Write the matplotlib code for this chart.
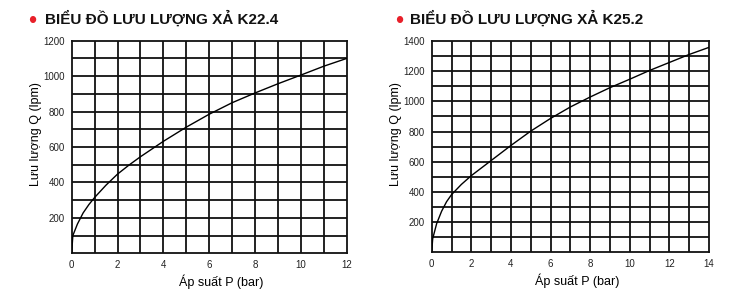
import numpy as np
import matplotlib
matplotlib.use('Agg')
import matplotlib.pyplot as plt

plt.rcParams['font.family'] = ['Liberation Sans', 'DejaVu Sans']

# K22.4 - doc tu hinh
p_k22 = [0, 0.05, 0.25, 0.5, 0.75, 1, 1.5, 2, 2.5, 3, 4, 5, 6, 7, 8, 9, 10, 11, 12]
q_k22 = [0, 100, 165, 228, 275, 315, 385, 447, 498, 545, 632, 712, 785, 850, 905, 957, 1006, 1056, 1100]

# K25.2
p_k25 = [0, 0.05, 0.25, 0.5, 0.75, 1, 1.5, 2, 3, 4, 5, 6, 7, 8, 9, 10, 11, 12, 13, 14]
q_k25 = [0, 90, 190, 272, 335, 382, 450, 508, 608, 708, 803, 887, 963, 1029, 1091, 1147, 1205, 1258, 1311, 1358]

charts = [
    dict(title='BIỂU ĐỒ LƯU LƯỢNG XẢ K22.4', p=p_k22, q=q_k22, xmax=12, ymax=1200,
         rect=[0.0966, 0.1235, 0.3706, 0.7356], bullet_x=0.043, title_x=0.061, xl=0.543),
    dict(title='BIỂU ĐỒ LƯU LƯỢNG XẢ K25.2', p=p_k25, q=q_k25, xmax=14, ymax=1400,
         rect=[0.5818, 0.127, 0.3737, 0.731], bullet_x=0.538, title_x=0.553, xl=0.525),
]

fig = plt.figure(figsize=(7.42, 2.89), dpi=100)

for c in charts:
    ax = fig.add_axes(c['rect'])
    ax.set_xlim(0, c['xmax'])
    ax.set_ylim(0, c['ymax'])
    # luoi moi 1 bar / 100 lpm
    for gx in range(1, c['xmax']):
        ax.axvline(gx, color='#111111', lw=1.3, zorder=1)
    for gy in range(100, c['ymax'], 100):
        ax.axhline(gy, color='#111111', lw=1.3, zorder=1)
    ax.plot(c['p'], c['q'], color='black', lw=1.0, zorder=3)
    for s in ax.spines.values():
        s.set_linewidth(1.3)
        s.set_color('#111111')
    ax.set_xticks(range(0, c['xmax'] + 1, 2))
    ax.set_yticks(range(200, c['ymax'] + 1, 200))
    ax.tick_params(length=0, labelsize=7, pad=5, colors='#222222')
    ax.set_xlabel('Áp suất P (bar)', fontsize=9)
    ax.xaxis.set_label_coords(c['xl'], -0.1)
    ax.set_ylabel('Lưu lượng Q (lpm)', fontsize=9)
    ax.yaxis.set_label_coords(-0.108, 0.56)
    fig.text(c['bullet_x'], 0.925, '•', color='#e8202a', fontsize=17,
             ha='center', va='center')
    fig.text(c['title_x'], 0.935, c['title'], fontsize=11, fontweight='bold',
             ha='left', va='center', color='#111111')

fig.savefig('out.png', dpi=100)
